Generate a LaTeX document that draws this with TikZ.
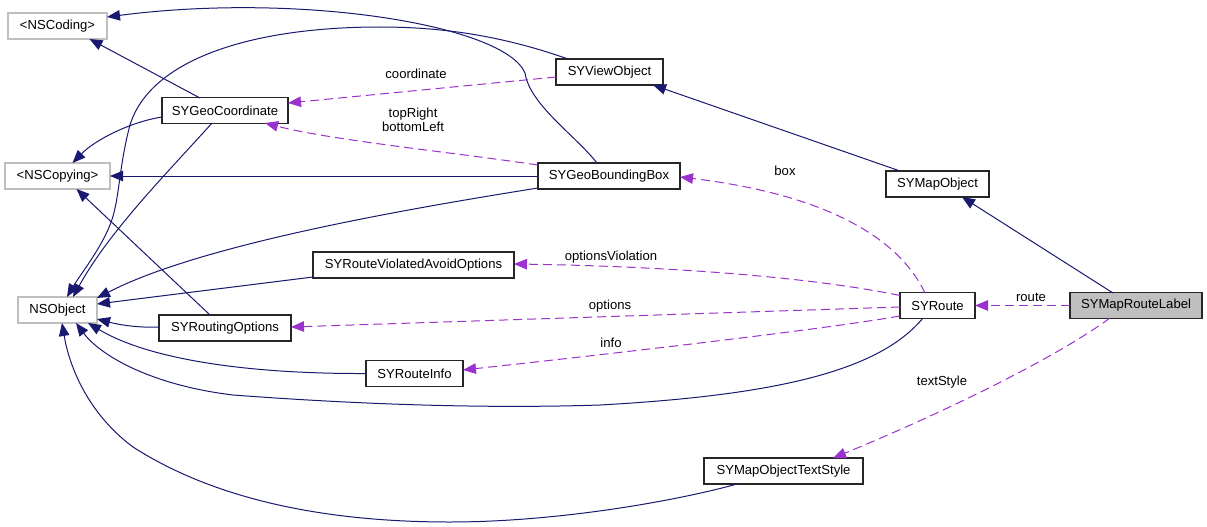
\documentclass[tikz,border=0pt]{standalone}
\usepackage{fontspec}
\setmainfont{Liberation Sans}
\usetikzlibrary{arrows.meta,calc}
\definecolor{navy}{HTML}{191970}
\definecolor{orchid}{HTML}{9A32CD}
\definecolor{boxgray}{HTML}{BFBFBF}
\begin{document}
\begin{tikzpicture}[x=1pt,y=-1pt,
  font=\fontsize{13.1}{14}\selectfont,
  cls/.style={draw=black!85, line width=1.1pt, minimum height=26pt, inner sep=0pt, fill=white, text=black},
  ext/.style={cls, draw=boxgray},
  inh/.style={navy, line width=1pt, -{Triangle[length=13pt,width=10.5pt]}},
  usesrel/.style={orchid, line width=1pt, dash pattern=on 9pt off 5pt, -{Triangle[length=13pt,width=10.5pt]}},
  lbl/.style={inner sep=0pt, text=black, align=center}]
\useasboundingbox (0,0) rectangle (1207,527);
\fill[white] (0,0) rectangle (1207,527);

% nodes
\node[ext, minimum width=99pt]  (nscoding)  at (57.5,26)   {<NSCoding>};
\node[ext, minimum width=105pt] (nscopying) at (57.5,176)  {<NSCopying>};
\node[ext, minimum width=79pt]  (nsobject)  at (57.5,310)  {NSObject};
\node[cls, minimum width=126pt] (geocoord)  at (225,110.5) {SYGeoCoordinate};
\node[cls, minimum width=107pt] (viewobj)   at (609.5,72)  {SYViewObject};
\node[cls, minimum width=142pt] (bbox)      at (609,176)   {SYGeoBoundingBox};
\node[cls, minimum width=103pt] (mapobj)    at (937.5,184) {SYMapObject};
\node[cls, minimum width=75pt]  (route)     at (937.5,305.5) {SYRoute};
\node[cls, minimum width=132pt, fill=boxgray] (label) at (1136,305.5) {SYMapRouteLabel};
\node[cls, minimum width=201pt] (violated)  at (413.5,265) {SYRouteViolatedAvoidOptions};
\node[cls, minimum width=132pt] (routing)   at (225,328)   {SYRoutingOptions};
\node[cls, minimum width=97pt]  (info)      at (414.5,373.5) {SYRouteInfo};
\node[cls, minimum width=159pt] (textstyle) at (783.5,471) {SYMapObjectTextStyle};

% inheritance / conformance (solid)
\draw[inh] ($(bbox)+(-12,-13)$) .. controls (575,135) and (530,105) .. (525,73)
  .. controls (505,25) and (300,-8) .. ($(nscoding)+(49.5,-9)$);
\draw[inh] ($(viewobj)+(-41.5,-13)$) .. controls (500,35) and (440,27) .. (380,27)
  .. controls (250,27) and (150,60) .. (130,125)
  .. controls (118,170) and (120,200) .. (110,225)
  .. controls (100,250) and (80,275) .. ($(nsobject)+(9.5,-13)$);
\draw[inh] ($(geocoord)+(-25,-12.5)$) -- ($(nscoding)+(32,13)$);
\draw[inh] ($(geocoord)+(-63,6.5)$) .. controls (130,122) and (95,140) .. ($(nscopying)+(15,-13)$);
\draw[inh] ($(geocoord)+(-13,12.5)$) .. controls (170,170) and (110,230) .. ($(nsobject)+(15.5,-13)$);
\draw[inh] ($(bbox)+(-71,0)$) -- ($(nscopying)+(52.5,0)$);
\draw[inh] ($(bbox)+(-71,12)$) .. controls (400,210) and (200,245) .. ($(nsobject)+(39.5,-12)$);
\draw[inh] ($(violated)+(-100.5,12)$) -- ($(nsobject)+(39.5,-6)$);
\draw[inh] ($(routing)+(-66,-1)$) .. controls (140,328) and (120,325) .. ($(nsobject)+(39.5,9)$);
\draw[inh] ($(routing)+(-15,-13)$) -- ($(nscopying)+(19,13)$);
\draw[inh] ($(info)+(-48.5,0)$) .. controls (250,374) and (150,360) .. ($(nsobject)+(30.5,13)$);
\draw[inh] ($(route)+(-14.5,12.5)$) .. controls (880,370) and (780,395) .. (600,405)
  .. controls (450,410) and (300,400) .. (233,395)
  .. controls (150,385) and (100,355) .. ($(nsobject)+(18.5,13)$);
\draw[inh] ($(textstyle)+(-46.5,13)$) .. controls (680,500) and (560,522) .. (450,522)
  .. controls (300,522) and (200,490) .. (133,447)
  .. controls (90,415) and (70,370) .. ($(nsobject)+(4.5,13)$);
\draw[inh] ($(mapobj)+(-37.5,-13)$) -- ($(viewobj)+(43.5,13)$);
\draw[inh] ($(label)+(-23,-12.5)$) -- ($(mapobj)+(24.5,13)$);

% usage (dashed)
\draw[usesrel] ($(viewobj)+(-53.5,5)$) -- ($(geocoord)+(63,-7.5)$);
\draw[usesrel] ($(bbox)+(-71,-11)$) .. controls (450,152) and (330,140) .. ($(geocoord)+(40,12.5)$);
\draw[usesrel] ($(label)+(-66,0)$) -- ($(route)+(37.5,0)$);
\draw[usesrel] ($(route)+(-12.5,-12.5)$) .. controls (900,240) and (830,195) .. ($(bbox)+(71,1)$);
\draw[usesrel] ($(route)+(-37.5,-10)$) .. controls (800,275) and (650,266) .. ($(violated)+(100.5,-1)$);
\draw[usesrel] ($(route)+(-37.5,1.5)$) -- ($(routing)+(66,-1)$);
\draw[usesrel] ($(route)+(-37.5,10.5)$) .. controls (820,330) and (600,355) .. ($(info)+(48.5,-3.5)$);
\draw[usesrel] ($(label)+(-26,12.5)$) .. controls (1060,355) and (950,410) .. ($(textstyle)+(49.5,-13)$);

% edge labels
\node[lbl] (lcoord) at (416,74) {coordinate};
\node[lbl] (ltr) at (413,120) {topRight\\bottomLeft};
\node[lbl] (lbox) at (785,171) {box};
\node[lbl] (lviol) at (611,257) {optionsViolation};
\node[lbl] (lopt) at (610,306) {options};
\node[lbl] (linfo) at (611,343) {info};
\node[lbl] (lroute) at (1031,297) {route};
\node[lbl] (lstyle) at (942,382) {textStyle};
\end{tikzpicture}
\end{document}
